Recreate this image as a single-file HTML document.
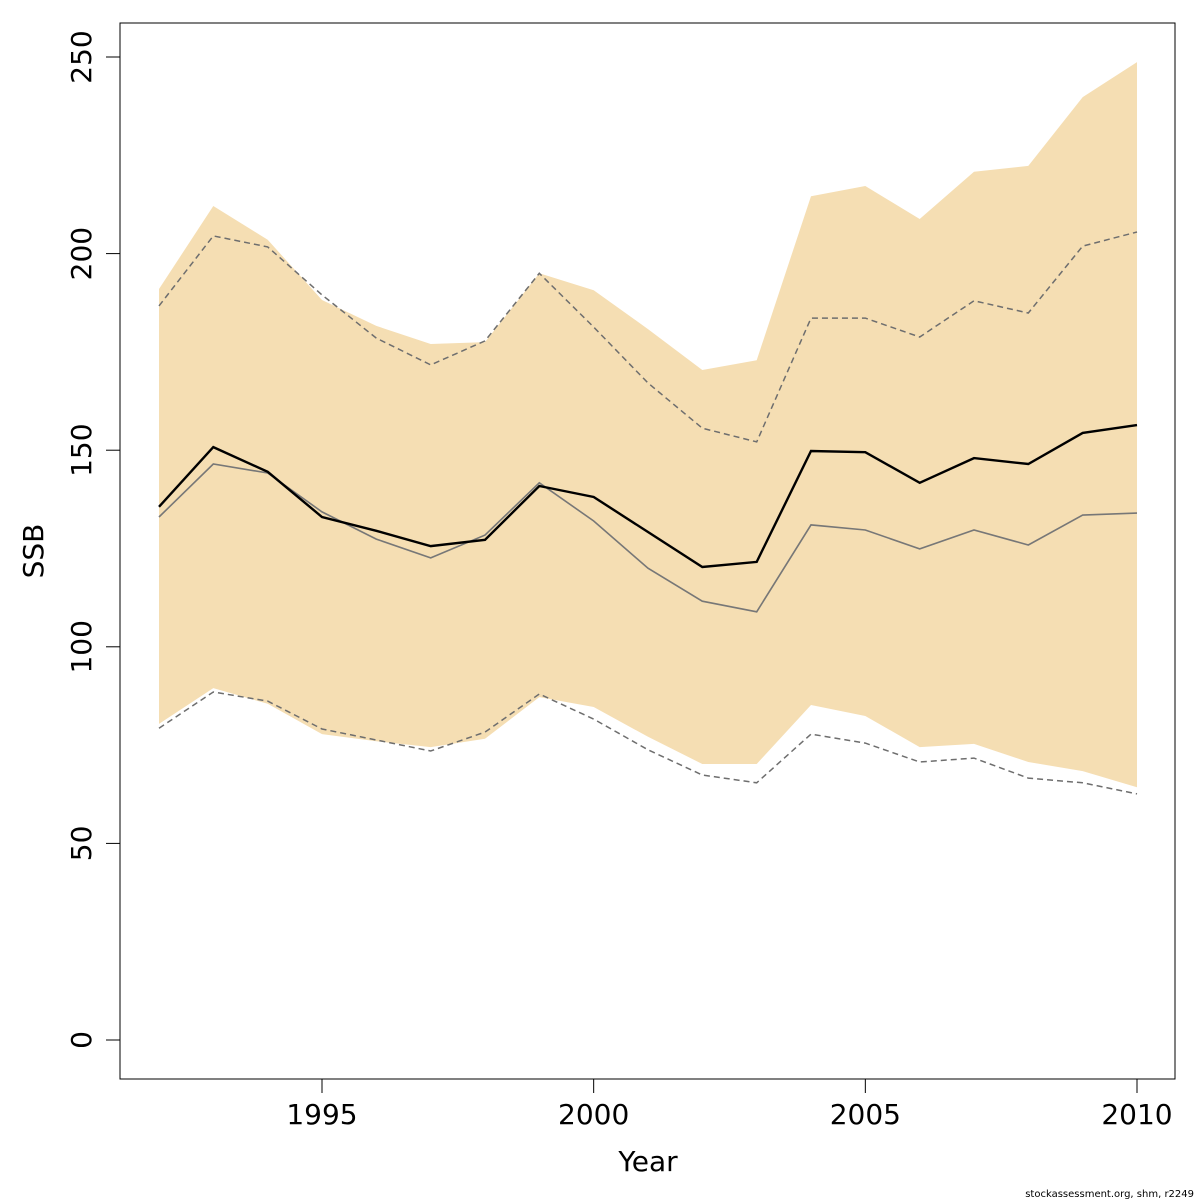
<!DOCTYPE html>
<html><head><meta charset="utf-8"><style>
html,body{margin:0;padding:0;background:#fff;}
svg{display:block;font-family:"DejaVu Sans","Liberation Sans",sans-serif;}
</style></head><body>
<svg id="chart" width="1200" height="1200" viewBox="0 0 1200 1200" xmlns="http://www.w3.org/2000/svg">
<rect x="120" y="23" width="1055" height="1056" fill="none" stroke="#000" stroke-width="1"/>
<g id="band"></g><g id="lines"></g><g id="axes"></g>
<text x="648" y="1171" font-size="28" text-anchor="middle">Year</text>
<text x="43" y="551" font-size="28" text-anchor="middle" transform="rotate(-90 43 551)">SSB</text>
<text x="1194" y="1197" font-size="10" text-anchor="end">stockassessment.org, shm, r2249</text>
</svg>
<script>
const years=[1992,1993,1994,1995,1996,1997,1998,1999,2000,2001,2002,2003,2004,2005,2006,2007,2008,2009,2010];
const ssb=[135.6,150.8,144.5,133,129.5,125.6,127.2,140.9,138.1,129.2,120.3,121.6,149.8,149.5,141.7,148,146.5,154.4,156.4];
const ssbRef=[133,146.5,144.2,134.3,127.4,122.6,128.4,141.7,132,120,111.6,108.9,131,129.7,124.9,129.7,125.9,133.5,134];
const refUpper=[186.7,204.5,201.7,189.5,178.5,171.7,177.8,195,181.3,167.1,155.6,152.1,183.6,183.6,178.8,188,184.9,201.9,205.5];
const refLower=[79.3,88.5,86.2,79.1,76.3,73.5,78.3,88,81.6,73.8,67.4,65.4,77.8,75.5,70.7,71.7,66.6,65.4,62.6];
const bandUpper=[191,212.1,203.5,188.2,181.6,177,177.5,195,190.7,180.8,170.4,172.9,214.6,217.2,208.8,220.8,222.3,239.8,248.7];
const bandLower=[80.4,89.5,85.5,77.8,76,74.5,76.6,87.2,84.7,77.1,70.2,70.2,85.2,82.4,74.5,75.3,70.7,68.4,64.3];
const xTicks=[1995,2000,2005,2010];
const yTicks=[0,50,100,150,200,250];
const NS="http://www.w3.org/2000/svg";
const X=y=>322+(y-1995)*(1137-322)/15;
const Y=v=>1040-v*(1040-57)/250;
function mk(tag,parent,attrs){const e=document.createElementNS(NS,tag);for(const k in attrs)e.setAttribute(k,attrs[k]);parent.appendChild(e);return e;}
const pts=a=>a.map((v,i)=>X(years[i]).toFixed(1)+","+Y(v).toFixed(1)).join(" ");
const band=document.getElementById("band");
const poly=mk("polygon",band,{points:pts(bandUpper)+" "+bandLower.map((v,i)=>[X(years[i]).toFixed(1)+","+Y(v).toFixed(1)]).reverse().join(" "),fill:"#f5deb3"});


const lines=document.getElementById("lines");
const specs=[[refUpper,"ref-upper-dashed","#6e6e6e",1.5,"6,4"],[refLower,"ref-lower-dashed","#6e6e6e",1.5,"6,4"],[ssbRef,"ssb-reference-line","#777",1.6,""],[ssb,"ssb-line","#000",2.4,""]];
for(const s of specs){const l=mk("polyline",lines,{points:pts(s[0]),fill:"none",stroke:s[2],"stroke-width":s[3],"stroke-dasharray":s[4]});

}
const axes=document.getElementById("axes");
const xl=mk("line",axes,{x1:X(1995),x2:X(2010),y1:1079,y2:1079,stroke:"#000"});


for(const t of xTicks){const tk=mk("line",axes,{x1:X(t),x2:X(t),y1:1079,y2:1093,stroke:"#000"});


const tx=mk("text",axes,{x:X(t),y:1124,"font-size":28,"text-anchor":"middle"});tx.textContent=t;

}
const yl=mk("line",axes,{x1:120,x2:120,y1:Y(0),y2:Y(250),stroke:"#000"});


for(const t of yTicks){const y=Y(t);const tk=mk("line",axes,{x1:106,x2:120,y1:y,y2:y,stroke:"#000"});


const tx=mk("text",axes,{x:91,y:y,"font-size":28,"text-anchor":"middle",transform:`rotate(-90 91 ${y})`});tx.textContent=t;

}
</script>
</body></html>
